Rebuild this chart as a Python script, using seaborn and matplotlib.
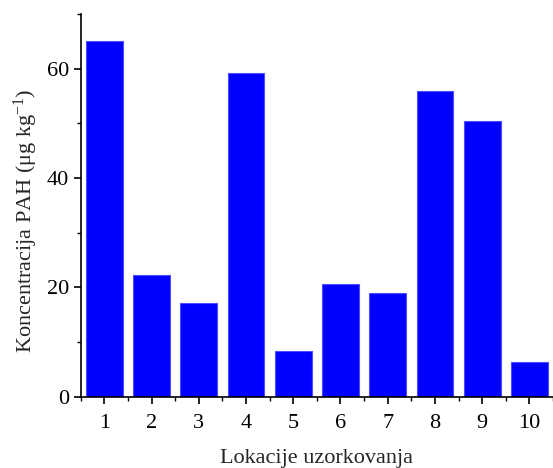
import numpy as np
import pandas as pd
import seaborn as sns
import matplotlib
matplotlib.use('Agg')
import matplotlib.pyplot as plt
from matplotlib.ticker import MultipleLocator

# data
lokacije = ['1', '2', '3', '4', '5', '6', '7', '8', '9', '10']
pah = [65.0, 22.3, 17.2, 59.2, 8.4, 20.7, 19.0, 55.9, 50.5, 6.4]

df = pd.DataFrame({'lok': lokacije, 'pah': pah})

sns.set_style('ticks')
plt.rcParams['font.family'] = ['Liberation Serif', 'DejaVu Serif']
plt.rcParams['mathtext.fontset'] = 'custom'
plt.rcParams['mathtext.rm'] = 'Liberation Serif'
plt.rcParams['mathtext.it'] = 'Liberation Serif:italic'

fig = plt.figure(figsize=(5.53, 4.68), dpi=100)
ax = fig.add_axes([0.146, 0.152, 0.854, 0.818])

sns.barplot(data=df, x='lok', y='pah', color='#0000ff', saturation=1,
            width=0.78, edgecolor='#4d4dff', linewidth=0.8, ax=ax)

ax.set_xlim(-0.5, 9.5)
ax.set_ylim(0, 70)
ax.set_yticks([0, 20, 40, 60])
ax.yaxis.set_minor_locator(MultipleLocator(10))
ax.set_xticks(np.arange(-0.5, 10, 1), minor=True)

for s in ['top', 'right']:
    ax.spines[s].set_visible(False)
for s in ['left', 'bottom']:
    ax.spines[s].set_linewidth(1.2)
    ax.spines[s].set_color('black')

ax.tick_params(which='major', direction='out', length=5, width=1.2, labelsize=16, colors='black')
ax.tick_params(which='minor', direction='out', length=3, width=1.0, colors='black')
ax.tick_params(axis='x', pad=7)

ax.set_xlabel('Lokacije uzorkovanja', fontsize=16, labelpad=12)
ax.set_ylabel('Koncentracija PAH (μg kg$^{-1}$)', fontsize=16, labelpad=5)
ax.yaxis.label.set_y(0.46)

fig.savefig('out.png', dpi=100)
